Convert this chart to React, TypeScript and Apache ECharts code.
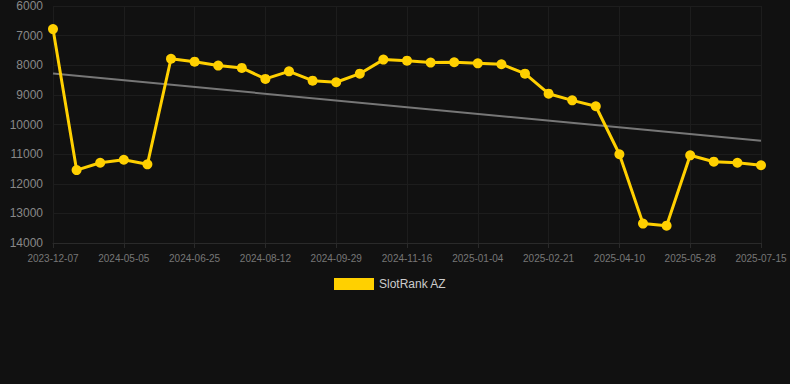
import React, { useEffect, useRef } from "react";
import * as echarts from "echarts";

const dates: string[] = [
  "2023-12-07", "2024-04-03", "2024-04-19", "2024-05-05", "2024-05-21", "2024-06-08",
  "2024-06-25", "2024-07-11", "2024-07-27", "2024-08-12", "2024-08-28", "2024-09-13",
  "2024-09-29", "2024-10-15", "2024-10-31", "2024-11-16", "2024-12-02", "2024-12-18",
  "2025-01-04", "2025-01-20", "2025-02-05", "2025-02-21", "2025-03-09", "2025-03-25",
  "2025-04-10", "2025-04-26", "2025-05-12", "2025-05-28", "2025-06-13", "2025-06-29",
  "2025-07-15",
];

const ranks: number[] = [
  6780, 11540, 11290, 11190, 11345, 7780, 7880, 8010, 8090, 8460, 8205, 8520,
  8575, 8285, 7810, 7845, 7910, 7900, 7935, 7965, 8285, 8960, 9185, 9385,
  11005, 13345, 13415, 11040, 11255, 11290, 11375,
];

const trendStart = 8280;
const trendEnd = 10550;

const seriesName = "SlotRank AZ";

export default function App() {
  const ref = useRef<HTMLDivElement>(null);
  useEffect(() => {
    if (!ref.current) return;
    const chart = echarts.init(ref.current, undefined, { renderer: "svg" });
    chart.setOption({
      animation: false,
      backgroundColor: "#111111",
      grid: { left: 53, right: 29, top: 6, bottom: 141 },
      legend: {
        data: [seriesName],
        top: 273,
        left: 329,
        itemWidth: 40,
        itemHeight: 12,
        itemGap: 10,
        icon: "rect",
        textStyle: { color: "#cccccc", fontSize: 12, fontFamily: "Liberation Sans, Arial, sans-serif" },
      },
      xAxis: {
        type: "category",
        data: dates,
        boundaryGap: false,
        axisLine: { show: true, lineStyle: { color: "#2a2a2a" } },
        axisTick: { show: true, interval: 2, lineStyle: { color: "#2a2a2a" } },
        axisLabel: {
          interval: 2,
          color: "#777777",
          fontSize: 10,
          margin: 10,
          fontFamily: "Liberation Sans, Arial, sans-serif",
        },
        splitLine: { show: true, interval: 2, lineStyle: { color: "#1d1d1d" } },
      },
      yAxis: {
        type: "value",
        inverse: true,
        min: 6000,
        max: 14000,
        interval: 1000,
        axisLine: { show: false },
        axisTick: { show: false },
        axisLabel: {
          color: "#888888",
          fontSize: 12,
          margin: 10,
          fontFamily: "Liberation Sans, Arial, sans-serif",
          formatter: (v: number) => String(v),
        },
        splitLine: { show: true, lineStyle: { color: "#1d1d1d" } },
      },
      series: [
        {
          name: "trend",
          type: "line",
          data: [[0, trendStart], [dates.length - 1, trendEnd]],
          symbol: "none",
          lineStyle: { color: "#777777", width: 2 },
          silent: true,
          z: 1,
        },
        {
          name: seriesName,
          type: "line",
          data: ranks,
          symbol: "circle",
          symbolSize: 10,
          itemStyle: { color: "#ffd000" },
          lineStyle: { color: "#ffd000", width: 3 },
          z: 3,
        },
      ],
    });
    return () => chart.dispose();
  }, []);
  return <div ref={ref} style={{ width: 790, height: 384, position: "absolute", left: 0, top: 0 }} />;
}
